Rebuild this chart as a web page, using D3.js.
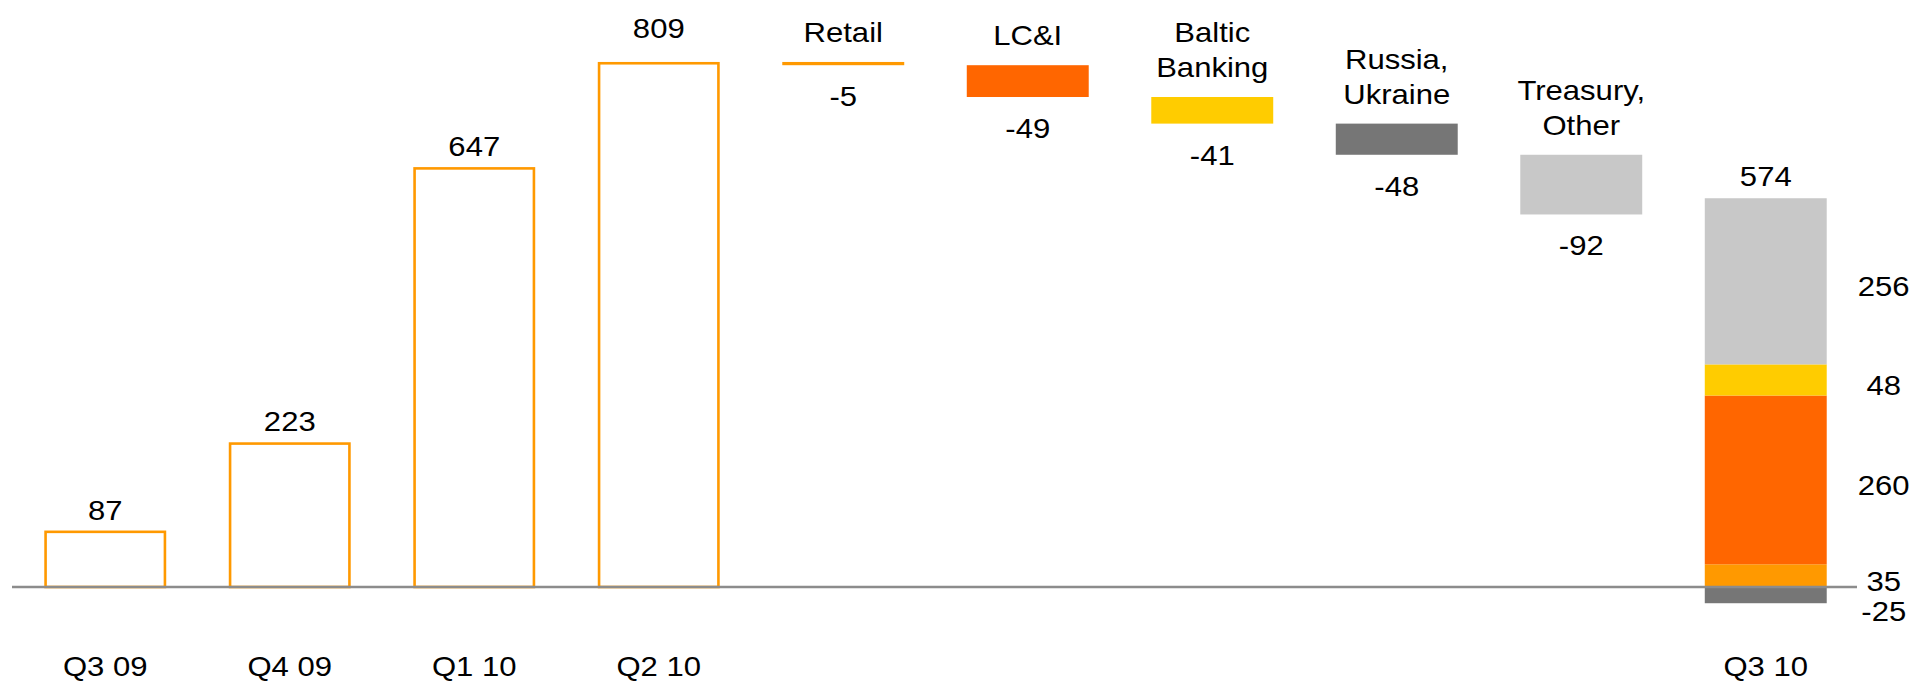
<!DOCTYPE html>
<html>
<head>
<meta charset="utf-8">
<script src="https://cdn.jsdelivr.net/npm/d3@7"></script>
<style>
  html, body { margin: 0; padding: 0; background: #ffffff; }
  svg { display: block; }
  text { font-family: "Liberation Sans", Arial, sans-serif; fill: #000; }
</style>
</head>
<body>
<svg id="chart" width="1916" height="685"></svg>
<script>
// ---- data ----
const periods = ["Q3 09", "Q4 09", "Q1 10", "Q2 10"];
const periodValues = [87, 223, 647, 809];

const segments = ["Retail", "LC&I", "Baltic Banking", "Russia, Ukraine", "Treasury, Other"];
const segmentLabelLines = [["Retail"], ["LC&I"], ["Baltic", "Banking"], ["Russia,", "Ukraine"], ["Treasury,", "Other"]];
const segmentChanges = [-5, -49, -41, -48, -92];

const finalCategory = "Q3 10";
const finalTotal = 574;
const finalSegments = ["Russia, Ukraine", "Retail", "LC&I", "Baltic Banking", "Treasury, Other"];
const finalValues = [-25, 35, 260, 48, 256];

// ---- styles ----
const segmentColors = {
  "Retail": "#FF9900",
  "LC&I": "#FF6600",
  "Baltic Banking": "#FFCC00",
  "Russia, Ukraine": "#767676",
  "Treasury, Other": "#C8C8C8"
};
const outlineColor = "#FF9900";
const fontSize = 27;
const stretch = 1.15;   // text in the original is horizontally wide

// ---- scales ----
const svg = d3.select("#chart");
const categories = [...periods, ...segments, finalCategory];
const x = d3.scaleBand().domain(categories).range([13, 1858]).paddingInner(0.339).paddingOuter(0.1695);
const y = d3.scaleLinear().domain([0, 900]).range([587, 2.9]);
const bw = x.bandwidth();

function label(parent, cx, by, lines, lineGap = 35) {
  const g = parent.append("g").attr("transform", `translate(${cx},${by})`);
  const t = g.append("text")
    .attr("text-anchor", "middle")
    .attr("font-size", fontSize)
    .attr("transform", `scale(${stretch},1)`);
  const arr = Array.isArray(lines) ? lines : [lines];
  const n = arr.length;
  arr.forEach((ln, j) => {
    t.append("tspan").attr("x", 0).attr("y", -(n - 1 - j) * lineGap).text(ln);
  });
  return g;
}

// ---- period bars (outlined) ----
const sw = 2.6;
svg.append("g").selectAll("rect").data(periods).join("rect")
  .attr("x", d => x(d) + sw / 2)
  .attr("y", (d, i) => y(periodValues[i]) + sw / 2)
  .attr("width", bw - sw)
  .attr("height", (d, i) => y(0) - y(periodValues[i]) - sw / 2)
  .attr("fill", "none")
  .attr("stroke", outlineColor)
  .attr("stroke-width", sw);

const topLabelLimit = 38;
const pl = svg.append("g");
periods.forEach((d, i) => {
  const by = Math.min(y(periodValues[i]) - 11, i === periods.length - 1 ? topLabelLimit : Infinity);
  label(pl, x(d) + bw / 2, by, String(periodValues[i]));
});

// ---- waterfall deltas ----
let running = periodValues[periodValues.length - 1];
const steps = segments.map((s, i) => {
  const start = running;
  running += segmentChanges[i];
  return { name: s, lines: segmentLabelLines[i], change: segmentChanges[i], hi: Math.max(start, running), lo: Math.min(start, running) };
});

const wg = svg.append("g");
wg.selectAll("rect").data(steps).join("rect")
  .attr("x", d => x(d.name))
  .attr("y", d => y(d.hi))
  .attr("width", bw)
  .attr("height", d => y(d.lo) - y(d.hi))
  .attr("fill", d => segmentColors[d.name]);

steps.forEach(d => {
  label(wg, x(d.name) + bw / 2, y(d.lo) + 41, String(d.change));
  label(wg, x(d.name) + bw / 2, y(d.hi) - 20, d.lines);
});

// ---- final stacked bar ----
let posAcc = 0, negAcc = 0;
const stack = finalSegments.map((s, i) => {
  const v = finalValues[i];
  let a, b;
  if (v >= 0) { a = posAcc; b = posAcc + v; posAcc = b; }
  else { b = negAcc; a = negAcc + v; negAcc = a; }
  return { name: s, value: v, lo: a, hi: b };
});

const fg = svg.append("g");
fg.selectAll("rect").data(stack).join("rect")
  .attr("x", x(finalCategory))
  .attr("y", d => y(d.hi))
  .attr("width", bw)
  .attr("height", d => y(d.lo) - y(d.hi))
  .attr("fill", d => segmentColors[d.name]);

label(fg, x(finalCategory) + bw / 2, y(posAcc) - 12, String(finalTotal));

// segment labels to the right, with simple collision avoidance (downwards)
const lbl = stack.map(d => ({ text: String(d.value), yy: (y(d.lo) + y(d.hi)) / 2 + 15 }))
  .sort((a, b) => a.yy - b.yy);
for (let i = 1; i < lbl.length; i++) {
  if (lbl[i].yy - lbl[i - 1].yy < 30) lbl[i].yy = lbl[i - 1].yy + 30;
}
lbl.forEach(d => label(fg, x(finalCategory) + bw + 57, d.yy, d.text));

// ---- baseline ----
svg.append("line")
  .attr("x1", 12).attr("x2", 1857)
  .attr("y1", y(0)).attr("y2", y(0))
  .attr("stroke", "#8c8c8c")
  .attr("stroke-width", 2.6);

// ---- category axis ----
const labelled = new Set([...periods, finalCategory]);
const axis = d3.axisBottom(x).tickSize(0).tickPadding(0)
  .tickFormat(d => labelled.has(d) ? d : "");
const ag = svg.append("g").attr("transform", "translate(0,676)").call(axis);
ag.select(".domain").remove();
ag.selectAll("text")
  .attr("dy", null)
  .attr("y", 0)
  .attr("font-size", fontSize)
  .attr("font-family", "Liberation Sans, Arial, sans-serif")
  .attr("fill", "#000")
  .attr("transform", `scale(${stretch},1)`);
</script>
</body>
</html>
